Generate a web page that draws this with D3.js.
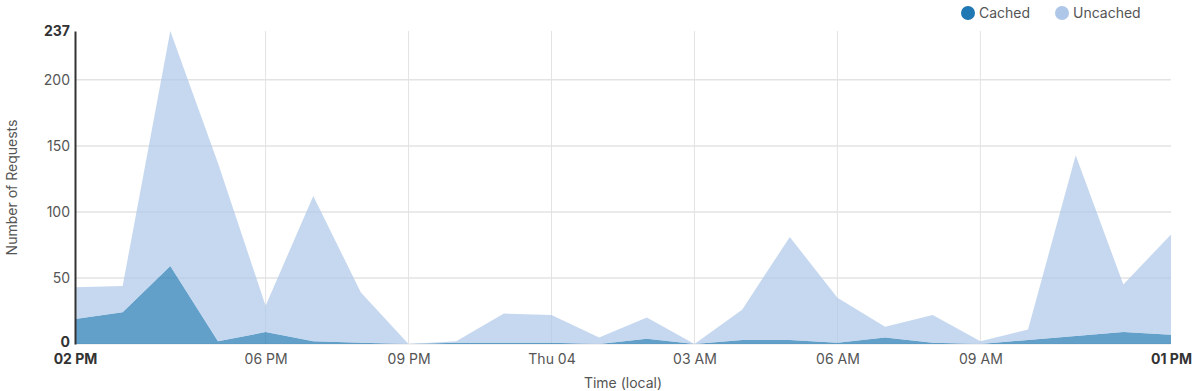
<!DOCTYPE html>
<html><head><meta charset="utf-8">
<script src="https://cdn.jsdelivr.net/npm/d3@7"></script>
<style>
body{margin:0;background:#fff;}
svg text{font-family:Inter,"Helvetica Neue",Helvetica,Arial,"Liberation Sans",sans-serif;}
</style></head>
<body><svg id="c" width="1197" height="391"></svg>
<script>
const hours = ["14","15","16","17","18","19","20","21","22","23","00","01","02","03","04","05","06","07","08","09","10","11","12","13"];
const cached   = [19,24,59,2,9,2,1,0,1,1,1,0,4,0,3,3,1,5,1,0,3,6,9,7];
const total    = [43,44,237,137,29,112,39,0,2,23,22,5,20,0,26,81,35,13,22,2,11,143,45,83];
const uncached = total.map((t,i)=>t-cached[i]);
const seriesNames = ["Cached","Uncached"];
const seriesColors = ["#1f77b4","#aec7e8"];
const yTicks = [0,50,100,150,200,237];
const xTickLabels = ["02 PM","06 PM","09 PM","Thu 04","03 AM","06 AM","09 AM","01 PM"];

const start = new Date(2024,0,3,14,0,0);
const times = hours.map((h,i)=>new Date(start.getTime()+i*3600e3));
const rows = times.map((t,i)=>({t, Cached:cached[i], Uncached:uncached[i]}));
const xTickTimes = [0,4,7,10,13,16,19,23].map(i=>times[i]);

const svg = d3.select("#c");
const m = {l:75, r:26, t:31, b:47};
const W = 1197, H = 391;
const FS = 14;
const x = d3.scaleTime().domain([times[0], times[times.length-1]]).range([m.l, W-m.r]);
const y = d3.scaleLinear().domain([0,237]).range([H-m.b, m.t]);

// grid
svg.append("g").selectAll("line").data([50,100,150,200]).join("line")
  .attr("x1",m.l).attr("x2",W-m.r).attr("y1",d=>y(d)).attr("y2",d=>y(d))
  .attr("stroke","#e3e3e3").attr("stroke-width",1.5);
svg.append("g").selectAll("line").data(xTickTimes.slice(1,-1)).join("line")
  .attr("x1",d=>x(d)).attr("x2",d=>x(d)).attr("y1",m.t).attr("y2",H-m.b)
  .attr("stroke","#e3e3e3").attr("stroke-width",1);
svg.append("line").attr("x1",m.l).attr("x2",W-m.r).attr("y1",y(0)).attr("y2",y(0))
  .attr("stroke","#e3e3e3").attr("stroke-width",1);

// stacked areas
const stack = d3.stack().keys(seriesNames)(rows);
const area = d3.area().x(d=>x(d.data.t)).y0(d=>y(d[0])).y1(d=>y(d[1]));
svg.append("g").selectAll("path").data(stack).join("path")
  .attr("d",area).attr("fill",(d,i)=>seriesColors[i]).attr("fill-opacity",0.7);

// y axis
const yAxis = svg.append("g").attr("transform",`translate(${m.l},0)`)
  .call(d3.axisLeft(y).tickValues(yTicks).tickSize(0).tickPadding(5));
yAxis.select(".domain").attr("stroke","#333").attr("stroke-width",2);
yAxis.selectAll("text").attr("font-size",FS)
  .attr("font-weight",d=>(d===0||d===237)?"bold":"normal")
  .attr("fill",d=>(d===0||d===237)?"#333":"#555")
  .attr("dy",d=>d===0?"0.18em":"0.32em");

// x axis
const xAxis = svg.append("g").attr("transform",`translate(0,${H-m.b})`)
  .call(d3.axisBottom(x).tickValues(xTickTimes).tickSize(0).tickPadding(7)
    .tickFormat((d,i)=>xTickLabels[i]));
xAxis.select(".domain").remove();
xAxis.selectAll("text").attr("font-size",FS)
  .attr("font-weight",(d,i)=>(i===0||i===xTickLabels.length-1)?"bold":"normal")
  .attr("fill",(d,i)=>(i===0||i===xTickLabels.length-1)?"#333":"#555")
  .attr("dy","0.95em");

// axis titles
svg.append("text").attr("transform",`translate(17,${(m.t+H-m.b)/2}) rotate(-90)`)
  .attr("text-anchor","middle").attr("font-size",FS).attr("fill","#555").text("Number of Requests");
svg.append("text").attr("x",(m.l+W-m.r)/2).attr("y",388)
  .attr("text-anchor","middle").attr("font-size",FS).attr("fill","#555").text("Time (local)");

// legend
const legX = [968,1062];
const lg = svg.append("g").selectAll("g").data(seriesNames).join("g")
  .attr("transform",(d,i)=>`translate(${legX[i]},13)`);
lg.append("circle").attr("r",7).attr("fill",(d,i)=>seriesColors[i]);
lg.append("text").attr("x",11).attr("y",5).attr("font-size",FS).attr("fill","#555").text(d=>d);
</script></body></html>
